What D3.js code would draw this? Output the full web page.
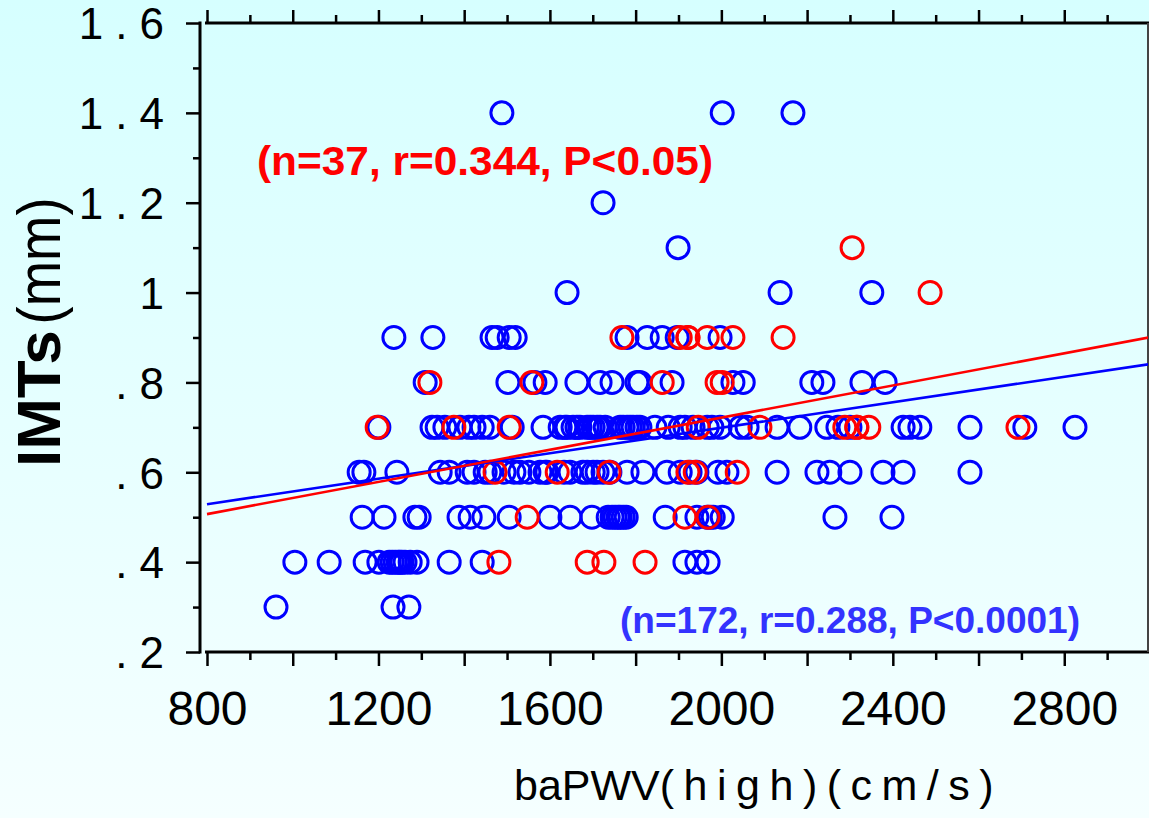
<!DOCTYPE html>
<html><head><meta charset="utf-8">
<script src="https://cdn.jsdelivr.net/npm/d3@7"></script>
<style>html,body{margin:0;padding:0;overflow:hidden;background:#fff}</style>
</head><body>
<svg id="chart" width="1149" height="818"></svg>
<script>
// ---- data ----
const xMajorTicks = [800, 1000, 1200, 1400, 1600, 1800, 2000, 2200, 2400, 2600, 2800, 3000];
const xMinorTicks = [900, 1100, 1300, 1500, 1700, 1900, 2100, 2300, 2500, 2700, 2900];
const xTickLabels = [800, 1200, 1600, 2000, 2400, 2800];
const yMajorTicks = [0.2, 0.4, 0.6, 0.8, 1.0, 1.2, 1.4, 1.6];
const yMinorTicks = [0.3, 0.5, 0.7, 0.9, 1.1, 1.3, 1.5];
const yTickLabels = [".2", ".4", ".6", ".8", "1", "1.2", "1.4", "1.6"];

const blueLevels = [1.4, 1.2, 1.1, 1.0, 0.9, 0.8, 0.7, 0.6, 0.5, 0.4, 0.3];
const blueXs = [
  [1488, 2002, 2167],
  [1724],
  [1899],
  [1640, 2137, 2351],
  [1236, 1327, 1465, 1477, 1505, 1519, 1780, 1827, 1862, 1897, 1997],
  [1309, 1502, 1565, 1589, 1663, 1717, 1745, 1803, 1810, 1885, 2027, 2051, 2211, 2237, 2328, 2382],
  [1201, 1325, 1337, 1355, 1390, 1411, 1423, 1442, 1460, 1512, 1584, 1624, 1635, 1640, 1654, 1663, 1670, 1687, 1694, 1701,
   1710, 1717, 1729, 1764, 1771, 1780, 1787, 1794, 1803, 1810, 1845, 1876, 1904, 1915, 1934, 1967, 1978, 1997, 2044, 2060,
   2130, 2183, 2246, 2272, 2300, 2424, 2440, 2463, 2580, 2708, 2825],
  [1155, 1166, 1243, 1344, 1365, 1407, 1423, 1449, 1460, 1493, 1516, 1530, 1551, 1577, 1589, 1593, 1633, 1647, 1677, 1687,
   1701, 1710, 1724, 1740, 1780, 1817, 1873, 1904, 1927, 1943, 1992, 2013, 2130, 2223, 2253, 2300, 2377, 2424, 2580],
  [1162, 1213, 1285, 1295, 1388, 1414, 1446, 1505, 1600, 1647, 1698, 1736, 1745, 1752, 1759, 1764, 1771, 1778, 1869, 1943,
   1967, 1974, 1981, 2002, 2265, 2398],
  [1005, 1085, 1169, 1201, 1225, 1232, 1239, 1246, 1250, 1255, 1262, 1274, 1290, 1365, 1442, 1915, 1943, 1969],
  [961, 1234, 1271]
];
const redLevels = [1.1, 1.0, 0.9, 0.8, 0.7, 0.6, 0.5, 0.4];
const redXs = [
  [2305],
  [2487],
  [1768, 1904, 1922, 1922, 1967, 2027, 2144],
  [1320, 1558, 1862, 1990, 2002],
  [1197, 1376, 1505, 1946, 2090, 2288, 2316, 2316, 2344, 2692],
  [1472, 1617, 1738, 1922, 1939, 2037],
  [1547, 1915, 1969],
  [1481, 1687, 1726, 1822]
];
// regression lines [intercept, slope]
const blueFit = [0.4155, 0.0001418];
const redFit = [0.3637, 0.000179];
const fitRange = [800, 3000];

const blueLabel = "(n=172, r=0.288, P<0.0001)";
const redLabel = "(n=37, r=0.344, P<0.05)";

// ---- drawing ----
const W = 1149, H = 818;
const svg = d3.select("#chart");
const defs = svg.append("defs");
const grad = defs.append("linearGradient").attr("id", "bg").attr("x1", 0).attr("y1", 0).attr("x2", 0).attr("y2", 1);
grad.append("stop").attr("offset", "0%").attr("stop-color", "#d6ffff");
grad.append("stop").attr("offset", "100%").attr("stop-color", "#f5ffff");
svg.append("rect").attr("width", W).attr("height", H).attr("fill", "url(#bg)");

const x = d3.scaleLinear().domain([800, 3000]).range([207, 1150]);
const y = d3.scaleLinear().domain([0.2, 1.6]).range([652, 23]);

defs.append("clipPath").attr("id", "plotclip").append("rect")
  .attr("x", 202).attr("y", 23).attr("width", 946).attr("height", 629);

const font = "'Liberation Sans', Arial, Helvetica, sans-serif";

// ticks
function styleAxis(g) {
  g.select(".domain").remove();
  g.selectAll("line").attr("stroke", "#000").attr("stroke-width", 2.5);
}
svg.append("g").attr("transform", `translate(0,${y(0.2)})`)
  .call(d3.axisBottom(x).tickValues(xMajorTicks).tickSize(14).tickPadding(25)
    .tickFormat(d => xTickLabels.includes(d) ? String(d) : ""))
  .call(styleAxis)
  .call(g => g.selectAll("text").attr("font-family", font).attr("font-size", 48).attr("fill", "#000"));
svg.append("g").attr("transform", `translate(0,${y(0.2)})`)
  .call(d3.axisBottom(x).tickValues(xMinorTicks).tickSize(8).tickFormat(""))
  .call(styleAxis);
svg.append("g").attr("transform", `translate(0,${y(1.6)})`)
  .call(d3.axisTop(x).tickValues(xMajorTicks).tickSize(13).tickFormat(""))
  .call(styleAxis);
svg.append("g").attr("transform", `translate(0,${y(1.6)})`)
  .call(d3.axisTop(x).tickValues(xMinorTicks).tickSize(8).tickFormat(""))
  .call(styleAxis);
svg.append("g").attr("transform", `translate(200,0)`)
  .call(d3.axisLeft(y).tickValues(yMajorTicks).tickSize(14).tickPadding(10)
    .tickFormat((d, i) => yTickLabels[i]))
  .call(styleAxis)
  .call(g => g.selectAll("text").attr("font-family", font).attr("font-size", 44)
    .attr("letter-spacing", "12px").attr("dy", "0.36em").attr("fill", "#000"));
svg.append("g").attr("transform", `translate(200,0)`)
  .call(d3.axisLeft(y).tickValues(yMinorTicks).tickSize(7).tickFormat(""))
  .call(styleAxis);

// frame lines
const frame = svg.append("g").attr("stroke", "#000").attr("stroke-width", 3);
frame.append("line").attr("x1", 200).attr("x2", 200).attr("y1", y(1.6) - 1.5).attr("y2", y(0.2) + 1.5);
frame.append("line").attr("x1", 205).attr("x2", W).attr("y1", y(0.2)).attr("y2", y(0.2));
frame.append("line").attr("x1", 205).attr("x2", W).attr("y1", y(1.6)).attr("y2", y(1.6));
frame.append("line").attr("x1", 1148).attr("x2", 1148).attr("y1", y(1.6)).attr("y2", y(0.2))
  .attr("stroke", "#444").attr("stroke-width", 2);

// points
function flatten(levels, xs) {
  const out = [];
  levels.forEach((lv, i) => xs[i].forEach(v => out.push({ x: v, y: lv })));
  return out;
}
const bluePts = flatten(blueLevels, blueXs);
const redPts = flatten(redLevels, redXs);

svg.append("g").selectAll("circle").data(bluePts).join("circle")
  .attr("cx", d => x(d.x)).attr("cy", d => y(d.y)).attr("r", 11)
  .attr("fill", "none").attr("stroke", "#0000ff").attr("stroke-width", 3);
svg.append("g").selectAll("circle").data(redPts).join("circle")
  .attr("cx", d => x(d.x)).attr("cy", d => y(d.y)).attr("r", 11)
  .attr("fill", "none").attr("stroke", "#ff0000").attr("stroke-width", 3);

// regression lines
const lineGen = d3.line().x(d => x(d[0])).y(d => y(d[1]));
const lines = svg.append("g").attr("clip-path", "url(#plotclip)");
[[blueFit, "#0000ff"], [redFit, "#ff0000"]].forEach(([fit, col]) => {
  const pts = fitRange.map(v => [v, fit[0] + fit[1] * v]);
  lines.append("path").attr("d", lineGen(pts)).attr("fill", "none")
    .attr("stroke", col).attr("stroke-width", 2.6);
});

// annotations
svg.append("text").attr("x", 257).attr("y", 175).attr("font-family", font)
  .attr("font-size", 40).attr("font-weight", "bold").attr("fill", "#ff0000")
  .attr("textLength", 456).attr("lengthAdjust", "spacingAndGlyphs").text(redLabel);
svg.append("text").attr("x", 620).attr("y", 633).attr("font-family", font)
  .attr("font-size", 37).attr("font-weight", "bold").attr("fill", "#3333ff")
  .attr("textLength", 460).attr("lengthAdjust", "spacingAndGlyphs").text(blueLabel);

// axis titles
const xt = svg.append("text").attr("x", 514).attr("y", 800).attr("font-family", font)
  .attr("font-size", 43).attr("fill", "#000");
xt.append("tspan").text("baPWV");
xt.append("tspan").attr("letter-spacing", "9.5px").text("(high)(cm/s)");

const yt = svg.append("text").attr("transform", "translate(60,467) rotate(-90)")
  .attr("font-family", font).attr("font-size", 62).attr("fill", "#000");
yt.append("tspan").attr("font-weight", "bold").text("IMTs");
yt.append("tspan").attr("dx", 6).attr("textLength", 127).attr("lengthAdjust", "spacingAndGlyphs").text("(mm)");
</script>
</body></html>
